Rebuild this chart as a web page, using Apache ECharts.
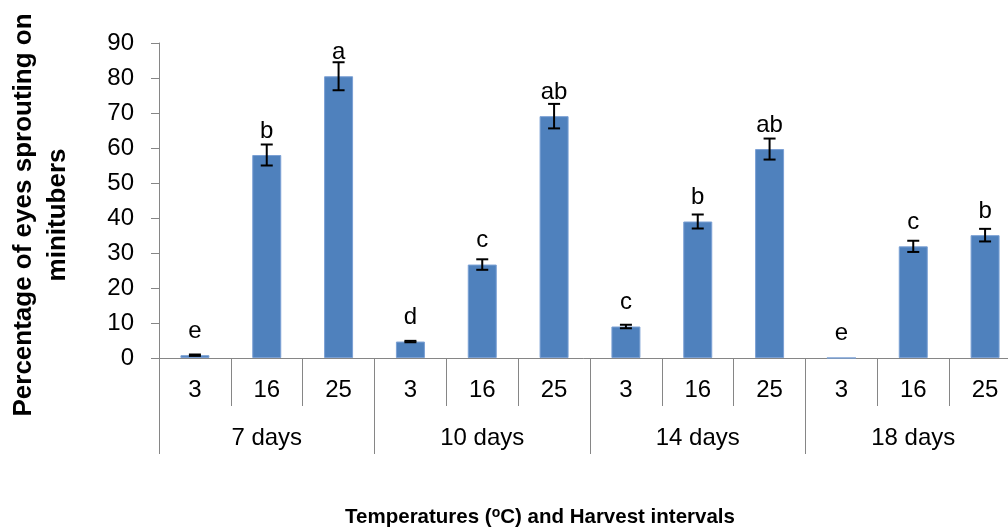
<!DOCTYPE html>
<html>
<head>
<meta charset="utf-8">
<script src="https://cdn.jsdelivr.net/npm/echarts@6/dist/echarts.min.js"></script>
<style>
  html, body { margin: 0; padding: 0; background: #fff; }
  #chart { width: 1008px; height: 529px; }
</style>
</head>
<body>
<div id="chart"></div>
<script>
// Temperature level of each bar and the harvest interval groups
const temperatures = ['3', '16', '25', '3', '16', '25', '3', '16', '25', '3', '16', '25'];
const intervals = ['7 days', '10 days', '14 days', '18 days'];
// Mean percentage of eyes sprouting, standard errors and significance letters
const sprouting = [0.8, 58.0, 80.5, 4.7, 26.7, 69.1, 9.0, 39.0, 59.7, 0, 31.9, 35.1];
const stdErrors = [0.2, 3.0, 4.0, 0.2, 1.5, 3.5, 0.5, 2.0, 3.0, 0, 1.6, 1.8];
const letters = ['e', 'b', 'a', 'd', 'c', 'ab', 'c', 'b', 'ab', 'e', 'c', 'b'];
// Y axis scale
const yMin = 0, yMax = 90, yStep = 10;

const FONT = 'Liberation Sans, Arial, sans-serif';
const AXIS_GREY = '#868686';

const chart = echarts.init(document.getElementById('chart'), null, { renderer: 'canvas' });

const errorData = sprouting.map((v, i) => [i, v, stdErrors[i]]);

chart.setOption({
  animation: false,
  backgroundColor: '#ffffff',
  // the plot area runs a little past the right edge of the page
  grid: { left: 159, width: 862, top: 43, height: 315, containLabel: false, outerBoundsMode: 'none' },
  xAxis: [
    {
      type: 'category',
      data: temperatures,
      axisLine: { show: true, lineStyle: { color: AXIS_GREY, width: 1 } },
      axisTick: { show: true, interval: 0, length: 48, lineStyle: { color: AXIS_GREY, width: 1 } },
      axisLabel: { interval: 0, margin: 20, fontSize: 24, color: '#000', fontFamily: FONT },
      splitLine: { show: false }
    },
    {
      type: 'category',
      data: intervals,
      position: 'bottom',
      axisLine: { show: false },
      axisTick: { show: true, interval: 0, length: 96, lineStyle: { color: AXIS_GREY, width: 1 } },
      axisLabel: { interval: 0, margin: 68, fontSize: 24, color: '#000', fontFamily: FONT },
      splitLine: { show: false }
    }
  ],
  yAxis: {
    type: 'value',
    min: yMin, max: yMax, interval: yStep,
    axisLine: { show: true, lineStyle: { color: AXIS_GREY, width: 1 } },
    axisTick: { show: true, length: 8, lineStyle: { color: AXIS_GREY, width: 1 } },
    axisLabel: { margin: 25, fontSize: 24, color: '#000', fontFamily: FONT },
    splitLine: { show: false }
  },
  graphic: [
    {
      type: 'text',
      x: 41, y: 215,
      rotation: Math.PI / 2,
      style: {
        text: 'Percentage of eyes sprouting on\nminitubers',
        fontSize: 26, fontWeight: 'bold', fontFamily: FONT,
        lineHeight: 34,
        fill: '#000', align: 'center', verticalAlign: 'middle'
      }
    },
    {
      type: 'text',
      x: 540, y: 517,
      style: {
        text: 'Temperatures ({sup|o}C) and Harvest intervals',
        fontSize: 20.5, fontWeight: 'bold', fontFamily: FONT,
        fill: '#000', align: 'center', verticalAlign: 'middle',
        rich: {
          sup: { fontSize: 14, fontWeight: 'bold', fontFamily: FONT, verticalAlign: 'top', lineHeight: 22 }
        }
      }
    }
  ],
  series: [
    {
      type: 'bar',
      data: sprouting,
      barWidth: 29,
      itemStyle: { color: '#4F81BD', borderColor: '#7BA0D4', borderWidth: 1 },
      label: {
        show: true,
        position: 'top',
        distance: 12,
        fontSize: 24,
        color: '#000',
        fontFamily: FONT,
        formatter: p => letters[p.dataIndex]
      }
    },
    {
      type: 'custom',
      data: errorData,
      z: 10,
      renderItem: function (params, api) {
        const idx = api.value(0);
        const mean = api.value(1);
        const se = api.value(2);
        if (se <= 0) return null;
        const top = api.coord([idx, mean + se]);
        const bottom = api.coord([idx, mean - se]);
        const half = 6;
        const style = { stroke: '#000', lineWidth: 2 };
        return {
          type: 'group',
          children: [
            { type: 'line', shape: { x1: top[0], y1: top[1], x2: bottom[0], y2: bottom[1] }, style },
            { type: 'line', shape: { x1: top[0] - half, y1: top[1], x2: top[0] + half, y2: top[1] }, style },
            { type: 'line', shape: { x1: bottom[0] - half, y1: bottom[1], x2: bottom[0] + half, y2: bottom[1] }, style }
          ]
        };
      }
    }
  ]
});
</script>
</body>
</html>
